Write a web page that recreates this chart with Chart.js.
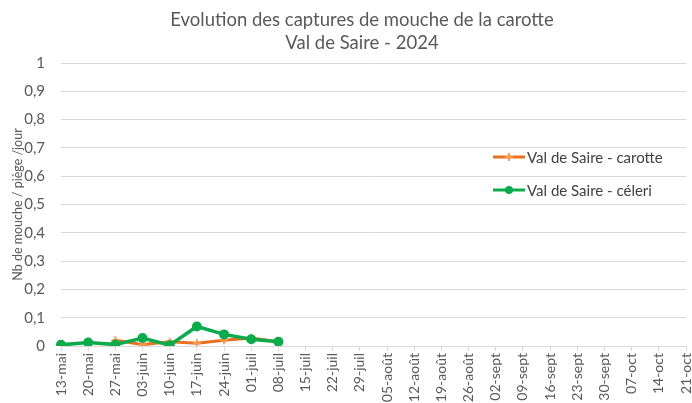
<!DOCTYPE html>
<html lang="fr">
<head>
<meta charset="utf-8">
<title>Mouche de la carotte - Val de Saire 2024</title>
<script src="https://cdn.jsdelivr.net/npm/chart.js@4/dist/chart.umd.min.js"></script>
<style>
  html, body { margin: 0; padding: 0; background: #fff; }
  #box { width: 692px; height: 403px; position: relative; }
</style>
</head>
<body>
<div id="box"><canvas id="graphe"></canvas></div>
<script>
// Semaines de relevé
const semaines = [
  "13-mai", "20-mai", "27-mai", "03-juin", "10-juin", "17-juin", "24-juin",
  "01-juil", "08-juil", "15-juil", "22-juil", "29-juil", "05-août", "12-août",
  "19-août", "26-août", "02-sept", "09-sept", "16-sept", "23-sept", "30-sept",
  "07-oct", "14-oct", "21-oct"
];

// Nb de mouches / piège / jour
const carotte = [null, null, 0.02, 0.005, 0.015, 0.01, 0.02, 0.028, 0.015];
const celeri = [0.004, 0.012, 0.005, 0.028, 0.003, 0.069, 0.041, 0.024, 0.015];

const titre = ["Evolution des captures de mouche de la carotte", "Val de Saire - 2024"];
const police = "Lato, 'Open Sans', sans-serif";

(function () {
  "use strict";

  // titre + légende dessinés à la main (Excel les pose sur la zone de tracé)
  const habillage = {
    id: "habillage",
    afterDraw(chart) {
      const ctx = chart.ctx;
      ctx.save();
      ctx.fillStyle = "#595959";
      ctx.font = "18.5px " + police;
      ctx.textAlign = "center";
      ctx.textBaseline = "middle";
      ctx.fillText(titre[0], 362, 20);
      ctx.fillText(titre[1], 362, 43);

      const lignes = [157, 190];
      chart.data.datasets.forEach((ds, i) => {
        const y = lignes[i];
        ctx.strokeStyle = ds.borderColor;
        ctx.lineWidth = 3;
        ctx.beginPath();
        ctx.moveTo(493, y);
        ctx.lineTo(525, y);
        ctx.stroke();
        if (ds.pointStyle === "cross") {
          ctx.strokeStyle = ds.pointBorderColor;
          ctx.lineWidth = 2;
          ctx.beginPath();
          ctx.moveTo(509, y - 4); ctx.lineTo(509, y + 4);
          ctx.moveTo(505, y); ctx.lineTo(513, y);
          ctx.stroke();
        } else {
          ctx.fillStyle = ds.pointBackgroundColor;
          ctx.beginPath();
          ctx.arc(509, y, 4, 0, Math.PI * 2);
          ctx.fill();
        }
        ctx.fillStyle = "#404040";
        ctx.font = "15px " + police;
        ctx.textAlign = "left";
        ctx.fillText(ds.label, 527, y + 1);
      });
      ctx.restore();
    }
  };

  new Chart(document.getElementById("graphe"), {
    type: "line",
    data: {
      labels: semaines,
      datasets: [
        {
          label: "Val de Saire - carotte",
          data: carotte,
          borderColor: "#e8701e",
          borderWidth: 3,
          pointStyle: "cross",
          pointRadius: 4,
          pointBorderWidth: 2,
          pointBorderColor: "#f59a4e",
          pointBackgroundColor: "#f59a4e",
          tension: 0,
          order: 2
        },
        {
          label: "Val de Saire - céleri",
          data: celeri,
          borderColor: "#0bab4b",
          borderWidth: 3.5,
          pointStyle: "circle",
          pointRadius: 5,
          pointBorderWidth: 0,
          pointBackgroundColor: "#0bab4b",
          tension: 0,
          order: 1
        }
      ]
    },
    options: {
      responsive: true,
      maintainAspectRatio: false,
      animation: false,
      layout: { padding: { top: 63, right: 6, left: 0, bottom: 0 } },
      plugins: {
        legend: { display: false },
        title: { display: false },
        tooltip: { enabled: false }
      },
      scales: {
        x: {
          offset: false,
          afterFit(s) { s.height = 57; s.paddingLeft = 0; s.paddingRight = 0; },
          grid: { drawOnChartArea: false, drawTicks: true, tickLength: 5, color: "#d9d9d9" },
          border: { display: true, color: "#d9d9d9", width: 1 },
          ticks: {
            autoSkip: false,
            minRotation: 90,
            maxRotation: 90,
            padding: 2,
            color: "#595959",
            font: { family: police, size: 14 }
          }
        },
        y: {
          min: 0,
          max: 1,
          afterFit(s) { s.width = 61; },
          grid: { color: "#d9d9d9", drawTicks: false },
          border: { display: false },
          ticks: {
            stepSize: 0.1,
            padding: 16,
            color: "#595959",
            font: { family: police, size: 15 },
            callback: v => String(Math.round(v * 10) / 10).replace(".", ",")
          },
          title: {
            display: true,
            text: "Nb de mouche / piège /jour",
            color: "#595959",
            font: { family: police, size: 12.5 },
            padding: { top: 10, bottom: 0 }
          }
        }
      }
    },
    plugins: [habillage]
  });
})();
</script>
</body>
</html>
